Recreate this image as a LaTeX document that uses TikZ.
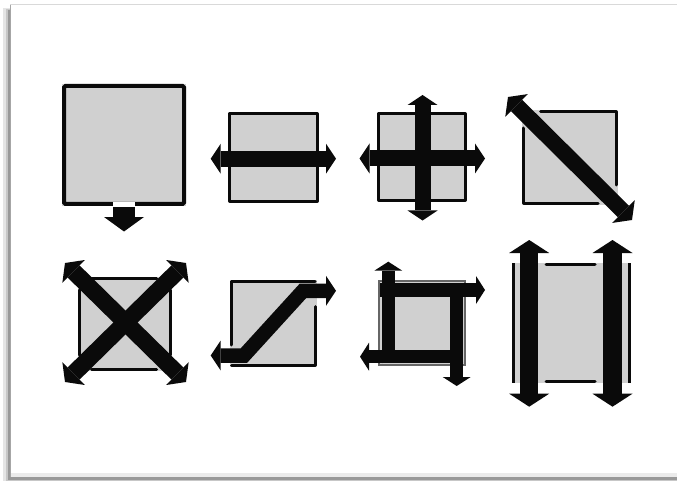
\documentclass[tikz,border=0pt]{standalone}
\usetikzlibrary{arrows.meta}
\definecolor{ink}{RGB}{10,10,10}
\definecolor{panel}{RGB}{208,208,208}
\tikzset{
  edge/.style={draw=ink, line width=3pt, line cap=round, line join=round},
  tip/.style={Triangle[width=#1,length=10pt,line width=0pt]},
  dbl/.style={draw=ink, line width=16pt, {Triangle[width=30pt,length=10pt,line width=0pt]}-{Triangle[width=30pt,length=10pt,line width=0pt]}},
  diag/.style={draw=ink, line width=16pt, {Triangle[width=32pt,length=12pt,line width=0pt]}-{Triangle[width=32pt,length=12pt,line width=0pt]}},
  bar/.style={draw=ink, line width=13.5pt, -{Triangle[width=28pt,length=9pt,line width=0pt]}},
  tall/.style={draw=ink, line width=18.5pt, {Triangle[width=40pt,length=13pt,line width=0pt]}-{Triangle[width=40pt,length=13pt,line width=0pt]}},
  down/.style={draw=ink, line width=22pt, -{Triangle[width=40pt,length=14.5pt,line width=0pt]}},
}
\begin{document}
\begin{tikzpicture}[x=1pt,y=-1pt]
\useasboundingbox (0,0) rectangle (677,481);
% frame with shadow
\fill[black!10] (3,8) rectangle (690,481);
\fill[black!22] (6,9) rectangle (690,481);
\fill[black!40] (8,10) rectangle (690,480);
\fill[white] (10,5) rectangle (690,476.5);
\fill[black!8] (10,472.5) rectangle (690,476.5);
\draw[black!15, line width=1pt] (10,4.5) -- (690,4.5);
\draw[black!35, line width=1.5pt] (10.5,5) -- (10.5,477);

% ---- panel 1
\fill[panel] (62,84) rectangle (186,206);
\draw[ink, line width=4pt, rounded corners=1.5pt] (64,86) rectangle (184,204);
\fill[white] (113,202) rectangle (135,207.5);
\coordinate (p1a) at (124,207.2);
\coordinate (p1b) at (124,231.5);
\draw[down] (p1a) -- (p1b);

% ---- panel 2
\fill[panel] (227.5,112) rectangle (318.5,203);
\draw[edge] (229,113.5) rectangle (317,201.5);
\coordinate (p2l) at (210.7,158.7);
\coordinate (p2r) at (336,158.7);
\draw[dbl] (p2l) -- (p2r);

% ---- panel 3
\fill[panel] (377,112) rectangle (467,202);
\draw[edge] (378.5,113.5) rectangle (465.5,200.5);
\coordinate (p3l) at (359.5,158.5);
\coordinate (p3r) at (485,158.5);
\coordinate (p3t) at (422.5,95);
\coordinate (p3b) at (422.5,220.5);
\draw[dbl] (p3l) -- (p3r);
\draw[dbl] (p3t) -- (p3b);

% ---- panel 4
\fill[panel] (522,110) rectangle (618,205);
\draw[edge] (540.7,111.5) -- (616.5,111.5) -- (616.5,185);
\draw[edge] (523.5,128) -- (523.5,203.5) -- (598,203.5);
\coordinate (p4a) at (508,97);
\coordinate (p4b) at (632,220);
\draw[diag] (p4a) -- (p4b);

% ---- panel 5
\fill[panel] (77.5,276.7) rectangle (171.7,370.7);
\draw[edge] (91.7,278.2) -- (156.7,278.2);
\draw[edge] (91.7,369.2) -- (156.7,369.2);
\draw[edge] (79,290) -- (79,355);
\draw[edge] (170.2,290) -- (170.2,355);
\coordinate (p5a) at (65,263);
\coordinate (p5b) at (186,382);
\coordinate (p5c) at (186,263);
\coordinate (p5d) at (65,382);
\draw[diag, line width=17pt] (p5a) -- (p5b);
\draw[diag, line width=17pt] (p5c) -- (p5d);

% ---- panel 6
\fill[panel] (230,280) rectangle (316.7,366.7);
\draw[edge] (231.5,345) -- (231.5,281.5) -- (315.2,281.5);
\draw[edge] (315.2,306.7) -- (315.2,365.2) -- (231.5,365.2);
\coordinate (p6a) at (210.7,355.5);
\coordinate (p6b) at (244,355.5);
\coordinate (p6c) at (303,290.8);
\coordinate (p6d) at (336,290.8);
\draw[dbl, line width=14.5pt] (p6a) -- (p6b) -- (p6c) -- (p6d);

% ---- panel 7
\fill[panel] (378,280) rectangle (466,366);
\draw[black!60, line width=1.5pt] (379,281) rectangle (465,365);
\coordinate (p7a) at (380,290);
\coordinate (p7b) at (485,290);
\coordinate (p7c) at (388.3,363.3);
\coordinate (p7d) at (388.3,261.7);
\coordinate (p7e) at (463.3,356.7);
\coordinate (p7f) at (360,356.7);
\coordinate (p7g) at (456.7,283);
\coordinate (p7h) at (456.7,386);
\draw[bar] (p7a) -- (p7b);
\draw[bar] (p7c) -- (p7d);
\draw[bar] (p7e) -- (p7f);
\draw[bar] (p7g) -- (p7h);

% ---- panel 8
\fill[panel] (511.7,263.3) rectangle (631,383.3);
\draw[edge, line cap=butt] (513,263.3) -- (513,383.3);
\draw[edge, line cap=butt] (629.7,263.3) -- (629.7,383.3);
\draw[edge] (546,264.8) -- (595,264.8);
\draw[edge] (546,381.8) -- (595,381.8);
\coordinate (p8a) at (529.2,240);
\coordinate (p8b) at (529.2,406.7);
\coordinate (p8c) at (612.5,240);
\coordinate (p8d) at (612.5,406.7);
\draw[tall] (p8a) -- (p8b);
\draw[tall] (p8c) -- (p8d);
\end{tikzpicture}
\end{document}
